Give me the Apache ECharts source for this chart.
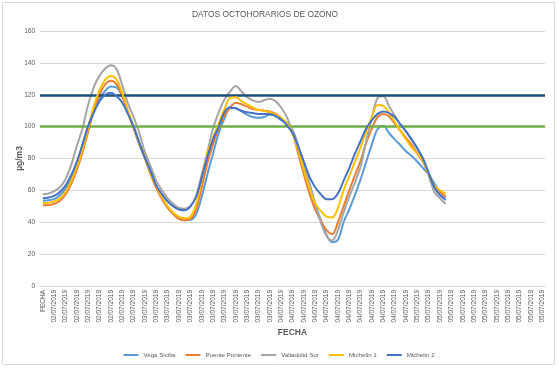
<!DOCTYPE html>
<html><head><meta charset="utf-8">
<script src="https://cdn.jsdelivr.net/npm/echarts@6/dist/echarts.min.js"></script>
<style>html,body{margin:0;padding:0;background:#fff}#c{width:558px;height:368px}</style>
</head><body><div id="c"></div>
<script>
// Category labels: header cell, then one label per hourly value of each day
const days = ['02/07/2019', '03/07/2019', '04/07/2019', '05/07/2019'];
const hoursPerDay = [16, 24, 24, 24];
const categories = ['FECHA'].concat(...days.map((d, i) => Array(hoursPerDay[i]).fill(d)));

const seriesNames = ['Vega Sicilia', 'Puente Poniente', 'Valladolid Sur', 'Michelin 1', 'Michelin 2'];

const vegaSicilia = [53.5, 53.8, 54.5, 57, 61, 67.5, 77, 88, 100, 110,
  117.5, 122.5, 125.2, 124.5, 119, 109, 99, 89, 80, 70.5,
  62, 55, 49.5, 45.5, 42.5, 41.3, 41.5, 45, 56, 70,
  83, 96, 105, 111.5, 111.5, 109.5, 107.5, 106, 105.5, 106,
  107.5, 107, 104, 102.5, 98, 88, 76, 64, 52, 41,
  32, 27.5, 29, 40, 48, 57, 67, 78, 89, 98.5,
  100.5, 96, 92, 88.5, 84.5, 81.5, 78, 74, 70, 64.5,
  59, 55.5];
const puentePoniente = [50.5, 50.8, 51.5, 53.5, 57.5, 64, 73, 84, 97, 110,
  120, 126.5, 128.8, 126.5, 119, 108.5, 99, 89, 80, 70,
  61.5, 54.5, 49, 45, 42, 41.3, 42, 48, 62, 77,
  89, 99, 107, 112, 115, 114, 112.5, 111, 110.5, 110,
  109.5, 108, 105.5, 101, 96, 83, 70, 58, 48, 41,
  35, 32.5, 40, 50, 60, 69.5, 78.5, 90, 99, 106,
  108, 106.5, 102, 97.5, 93, 88.5, 83, 78, 70, 63,
  59, 56];
const valladolidSur = [57.5, 58, 59.5, 62, 67, 76, 88, 99, 114, 125,
  132, 136.5, 138.5, 136, 126, 114.5, 106, 96, 84, 75,
  66, 60, 55, 51.5, 49, 48.5, 50, 56, 70, 84,
  99, 109, 117, 122, 125.5, 122, 118.5, 116.5, 115.5, 116.5,
  117.5, 116, 112, 106, 97, 88, 77, 64, 51, 40,
  31.5, 28.5, 35, 46, 56, 65, 75, 91, 106, 118,
  119, 113, 107, 101.5, 97, 91.5, 86, 79, 69, 59,
  55, 51.5];
const michelin1 = [52, 52.3, 53, 55, 59, 66, 75, 86, 99, 113,
  123, 129.5, 131.8, 129.5, 121, 110, 100, 90, 81, 71,
  62.5, 55.5, 50, 46, 43.5, 42.5, 43.5, 51, 67, 83,
  93, 102, 111, 118, 118.5, 116, 114, 112, 110.5, 110,
  109, 107.5, 105.5, 102, 96, 85, 73, 61, 52, 47,
  43.5, 43, 49, 60, 69, 78, 87, 97, 106, 113.5,
  113, 109, 103, 97.5, 92, 87, 83, 78.5, 70, 63,
  60, 58];
const michelin2 = [55, 55.5, 56.5, 59, 63, 69.5, 78, 89, 100.5, 109,
  116, 120, 121.3, 119, 115, 108, 100, 90, 80.5, 72,
  63, 57.5, 53, 50, 48, 47.5, 50, 56, 68, 81,
  92, 100, 109, 112, 111.5, 110, 109, 108.5, 108, 108,
  108, 106.5, 104.5, 101, 96, 87.5, 78, 68.5, 62, 57.5,
  54.5, 54.5, 58, 66, 74, 83, 91, 99, 104, 108,
  109.5, 108.5, 106, 101.5, 97, 92, 86.5, 80, 71, 62,
  57, 54];

const seriesValues = [vegaSicilia, puentePoniente, valladolidSur, michelin1, michelin2];
const seriesColors = ['#5B9BD5', '#ED7D31', '#A5A5A5', '#FFC000', '#4472C4'];

const limitValues = [120, 100];
const limitColors = ['#1F4E79', '#70AD47'];

const yTicks = { min: 0, max: 160, step: 20 };

const font = 'Liberation Sans, Arial, sans-serif';
const grey = '#595959';

const chart = echarts.init(document.getElementById('c'), null, { renderer: 'canvas' });

const series = seriesNames.map((name, i) => ({
  name, type: 'line', data: seriesValues[i], symbol: 'none', showSymbol: false, smooth: 0.35,
  lineStyle: { width: 2, color: seriesColors[i] }, itemStyle: { color: seriesColors[i] },
  z: 2 + i, animation: false
}));
series.push({
  name: 'limits', type: 'line', data: [], symbol: 'none', z: 10, animation: false,
  markLine: {
    silent: true, symbol: 'none', label: { show: false }, animation: false,
    data: limitValues.map((v, i) => ({ yAxis: v, lineStyle: { color: limitColors[i], width: 2.5, type: 'solid' } }))
  }
});

chart.setOption({
  animation: false,
  backgroundColor: '#fff',
  graphic: [{ type: 'rect', shape: { x: 2.5, y: 2.5, width: 552, height: 362 }, style: { fill: 'none', stroke: '#d9d9d9', lineWidth: 1 }, z: -1 }],
  title: {
    text: 'DATOS OCTOHORARIOS DE OZONO', left: 192, top: 11, padding: 0,
    textStyle: { fontSize: 8.4, fontWeight: 'normal', color: grey, fontFamily: font }
  },
  legend: {
    data: seriesNames, left: 'center', top: 347, icon: 'rect', itemWidth: 15, itemHeight: 2, itemGap: 10,
    textStyle: { fontSize: 6.2, color: grey, fontFamily: font }
  },
  grid: { left: 40, right: 13, top: 31, bottom: 82, containLabel: false },
  xAxis: {
    type: 'category', data: categories, boundaryGap: true,
    name: 'FECHA', nameLocation: 'middle', nameGap: 42, nameMoveOverlap: false,
    nameTextStyle: { fontSize: 8.5, fontWeight: 'bold', color: grey, fontFamily: font },
    axisLine: { lineStyle: { color: '#d9d9d9' } }, axisTick: { show: false },
    axisLabel: { interval: 1, rotate: 90, fontSize: 6.5, color: grey, margin: 4, fontFamily: font },
    splitLine: { show: false }
  },
  yAxis: {
    type: 'value', min: yTicks.min, max: yTicks.max, interval: yTicks.step,
    name: 'µg/m3', nameLocation: 'middle', nameGap: 16, nameRotate: 90, nameMoveOverlap: false,
    nameTextStyle: { fontSize: 8.5, fontWeight: 'bold', color: grey, fontFamily: font },
    axisLine: { show: false }, axisTick: { show: false },
    axisLabel: { fontSize: 6.5, color: grey, margin: 5, fontFamily: font },
    splitLine: { lineStyle: { color: '#d9d9d9', width: 1 } }
  },
  series
});
</script></body></html>
